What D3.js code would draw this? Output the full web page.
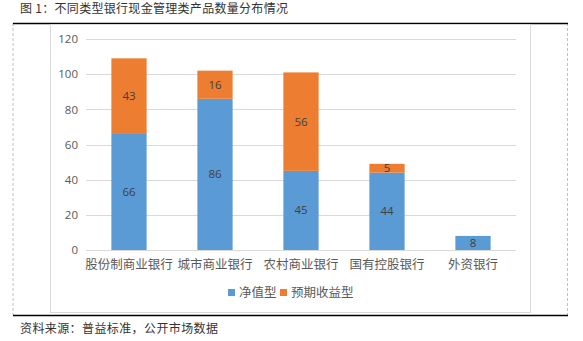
<!DOCTYPE html>
<html>
<head>
<meta charset="utf-8">
<script src="https://cdn.jsdelivr.net/npm/d3@7"></script>
<style>
  html, body { margin: 0; padding: 0; background: #fff; }
  svg { display: block; }
</style>
</head>
<body>
<svg id="chart" width="583" height="341"></svg>
<script>
// Bank categories and product counts per type
const categories = ["股份制商业银行", "城市商业银行", "农村商业银行", "国有控股银行", "外资银行"];
const netValue = [66, 86, 45, 44, 8];          // 净值型
const expectedReturn = [43, 16, 56, 5, 0];     // 预期收益型
const seriesNames = ["净值型", "预期收益型"];
const yTicks = [0, 20, 40, 60, 80, 100, 120];

const colors = ["#5B9BD5", "#ED7D31"];
const cjk = "'Noto Sans CJK SC', 'Microsoft YaHei', sans-serif";
const num = "'Open Sans', 'Liberation Sans', sans-serif";

const svg = d3.select("#chart");

// Caption above the frame
svg.append("text")
  .attr("x", 20).attr("y", 13)
  .attr("font-family", cjk).attr("font-size", 12)
  .attr("fill", "#333").attr("letter-spacing", 0.3)
  .text("图 1：不同类型银行现金管理类产品数量分布情况");

// Outer frame: black rules top and bottom, dashed gray sides
const frame = svg.append("g");
frame.append("line").attr("x1", 13).attr("x2", 13).attr("y1", 23).attr("y2", 315)
  .attr("stroke", "#bfbfbf").attr("stroke-dasharray", "3,2");
frame.append("line").attr("x1", 567.5).attr("x2", 567.5).attr("y1", 23).attr("y2", 315)
  .attr("stroke", "#bfbfbf").attr("stroke-dasharray", "3,2");

// Chart area border
svg.append("rect").attr("x", 50.5).attr("y", 24.5).attr("width", 480).attr("height", 288)
  .attr("fill", "none").attr("stroke", "#d9d9d9");

frame.append("line").attr("x1", 13).attr("x2", 568).attr("y1", 23.5).attr("y2", 23.5)
  .attr("stroke", "#000").attr("stroke-width", 1.3);
frame.append("line").attr("x1", 13).attr("x2", 568).attr("y1", 315.5).attr("y2", 315.5)
  .attr("stroke", "#000").attr("stroke-width", 1.3);

// Scales
const x = d3.scaleBand().domain(categories).range([86, 516]).paddingInner(0.59).paddingOuter(0.295);
const y = d3.scaleLinear().domain([0, 120]).range([250, 39]);

// Gridlines
svg.append("g").selectAll("line").data(yTicks).join("line")
  .attr("x1", 86).attr("x2", 516)
  .attr("y1", d => Math.round(y(d)) + 0.5).attr("y2", d => Math.round(y(d)) + 0.5)
  .attr("stroke", "#d9d9d9").attr("stroke-width", 1);

// Y axis labels
const yAxis = svg.append("g").attr("transform", "translate(80,0)")
  .call(d3.axisLeft(y).tickValues(yTicks).tickSize(0).tickPadding(2));
yAxis.select(".domain").remove();
yAxis.selectAll("text").attr("font-family", num).attr("font-size", 11.5).attr("fill", "#595959");

// Stacked bars
const rows = categories.map((c, i) => ({ cat: c, "净值型": netValue[i], "预期收益型": expectedReturn[i] }));
const stacked = d3.stack().keys(seriesNames)(rows);

const layers = svg.append("g").selectAll("g").data(stacked).join("g")
  .attr("fill", (d, i) => colors[i]);

layers.selectAll("rect").data(d => d).join("rect")
  .attr("x", d => x(d.data.cat))
  .attr("width", x.bandwidth())
  .attr("y", d => y(d[1]))
  .attr("height", d => y(d[0]) - y(d[1]));

// Value labels centred in each segment
layers.selectAll("text").data(d => d.filter(s => s[1] - s[0] > 0)).join("text")
  .attr("x", d => x(d.data.cat) + x.bandwidth() / 2)
  .attr("y", d => (y(d[0]) + y(d[1])) / 2)
  .attr("dy", "0.35em")
  .attr("text-anchor", "middle")
  .attr("font-family", num).attr("font-size", 11.5).attr("fill", "#404040")
  .text(d => d[1] - d[0]);

// X axis line and category labels
svg.append("line").attr("x1", 86).attr("x2", 516).attr("y1", 250.5).attr("y2", 250.5)
  .attr("stroke", "#d9d9d9");
svg.append("g").selectAll("text").data(categories).join("text")
  .attr("x", d => x(d) + x.bandwidth() / 2)
  .attr("y", 265).attr("dy", "0.35em")
  .attr("text-anchor", "middle")
  .attr("font-family", cjk).attr("font-size", 12.5).attr("fill", "#595959")
  .text(d => d);

// Legend
const legend = svg.append("g");
const legendItems = [{ name: seriesNames[0], x: 228 }, { name: seriesNames[1], x: 280 }];
legendItems.forEach((it, i) => {
  legend.append("rect").attr("x", it.x).attr("y", 289).attr("width", 7).attr("height", 7)
    .attr("fill", colors[i]);
  legend.append("text").attr("x", it.x + 11).attr("y", 293).attr("dy", "0.35em")
    .attr("font-family", cjk).attr("font-size", 12.5).attr("fill", "#595959")
    .text(it.name);
});

// Source note
svg.append("text")
  .attr("x", 20).attr("y", 333)
  .attr("font-family", cjk).attr("font-size", 12)
  .attr("fill", "#333").attr("letter-spacing", 0.4)
  .text("资料来源：普益标准，公开市场数据");
</script>
</body>
</html>
